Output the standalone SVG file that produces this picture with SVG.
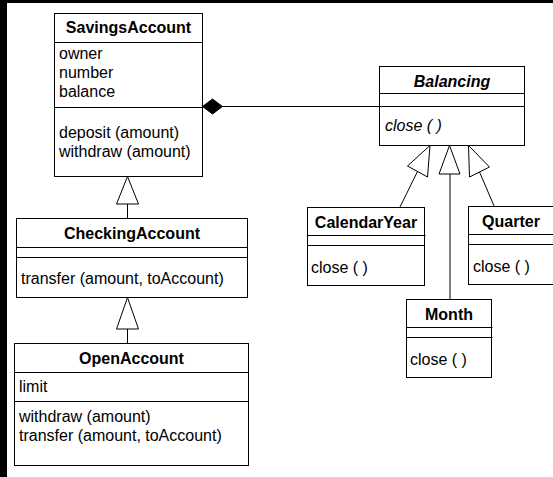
<svg xmlns="http://www.w3.org/2000/svg" width="553" height="477" viewBox="0 0 553 477">
  <style>
    .box { fill: #fff; stroke: #000; stroke-width: 1; }
    .sep { stroke: #000; stroke-width: 1; fill: none; }
    .edge { stroke: #000; stroke-width: 1; fill: none; }
    .gen { fill: #fff; stroke: #000; stroke-width: 1; }
    .comp { fill: #000; stroke: #000; stroke-width: 1; }
    text { font-family: "Liberation Sans", Arial, Helvetica, sans-serif; font-size: 16px; fill: #000; }
    .title { font-weight: bold; text-anchor: middle; }
    .abstract { font-style: italic; }
  </style>

  <!-- canvas -->
  <rect x="0" y="0" width="553" height="477" fill="#000"/>
  <rect x="7" y="3" width="546" height="474" fill="#fff"/>

  <!-- connectors -->
  <g id="connectors">
    <!-- composition: SavingsAccount owns Balancing -->
    <line class="edge" x1="222" y1="106.5" x2="379.5" y2="106.5"/>
    <polygon class="comp" points="202.5,106.5 212.5,99 222.5,106.5 212.5,114"/>

    <!-- CheckingAccount extends SavingsAccount -->
    <line class="edge" x1="127.5" y1="204" x2="127.5" y2="218"/>
    <polygon class="gen" points="127.5,176.5 116.5,204 138.5,204"/>

    <!-- OpenAccount extends CheckingAccount -->
    <line class="edge" x1="127.5" y1="329" x2="127.5" y2="343"/>
    <polygon class="gen" points="127.5,297.5 116.5,329 138.5,329"/>

    <!-- CalendarYear extends Balancing -->
    <line class="edge" x1="417.5" y1="171.5" x2="400" y2="207"/>
    <polygon class="gen" points="430,145.5 407.5,166 427.5,177"/>

    <!-- Month extends Balancing -->
    <line class="edge" x1="450" y1="174" x2="450" y2="299"/>
    <polygon class="gen" points="449.5,145.5 439,174 460,174"/>

    <!-- Quarter extends Balancing -->
    <line class="edge" x1="479.5" y1="172" x2="494.5" y2="207"/>
    <polygon class="gen" points="468.5,145.5 469.5,177 489.5,167"/>
  </g>

  <!-- SavingsAccount -->
  <g id="SavingsAccount">
    <rect class="box" x="54.5" y="13.5" width="148" height="163"/>
    <line class="sep" x1="54.5" y1="42.5" x2="202.5" y2="42.5"/>
    <line class="sep" x1="54.5" y1="107.5" x2="202.5" y2="107.5"/>
    <text class="title" x="128.5" y="33">SavingsAccount</text>
    <text x="59" y="59">owner</text>
    <text x="59" y="78">number</text>
    <text x="59" y="97">balance</text>
    <text x="59" y="138">deposit (amount)</text>
    <text x="59" y="157">withdraw (amount)</text>
  </g>

  <!-- CheckingAccount -->
  <g id="CheckingAccount">
    <rect class="box" x="16.5" y="218.5" width="231" height="79"/>
    <line class="sep" x1="16.5" y1="247.5" x2="247.5" y2="247.5"/>
    <line class="sep" x1="16.5" y1="257.5" x2="247.5" y2="257.5"/>
    <text class="title" x="132" y="239">CheckingAccount</text>
    <text x="21" y="284">transfer (amount, toAccount)</text>
  </g>

  <!-- OpenAccount -->
  <g id="OpenAccount">
    <rect class="box" x="14.5" y="343.5" width="234" height="122"/>
    <line class="sep" x1="14.5" y1="372.5" x2="248.5" y2="372.5"/>
    <line class="sep" x1="14.5" y1="401.5" x2="248.5" y2="401.5"/>
    <text class="title" x="131.5" y="364">OpenAccount</text>
    <text x="19" y="392">limit</text>
    <text x="19" y="422">withdraw (amount)</text>
    <text x="19" y="441">transfer (amount, toAccount)</text>
  </g>

  <!-- Balancing (abstract) -->
  <g id="Balancing">
    <rect class="box" x="379.5" y="66.5" width="145" height="79"/>
    <line class="sep" x1="379.5" y1="93.5" x2="524.5" y2="93.5"/>
    <line class="sep" x1="379.5" y1="106.5" x2="524.5" y2="106.5"/>
    <text class="title abstract" x="452" y="87">Balancing</text>
    <text class="abstract" x="385" y="131">close ( )</text>
  </g>

  <!-- CalendarYear -->
  <g id="CalendarYear">
    <rect class="box" x="307.5" y="207.5" width="117" height="78"/>
    <line class="sep" x1="307.5" y1="235.5" x2="425.5" y2="235.5"/>
    <line class="sep" x1="307.5" y1="245.5" x2="424.5" y2="245.5"/>
    <text class="title" x="366" y="228">CalendarYear</text>
    <text x="311" y="273">close ( )</text>
  </g>

  <!-- Quarter -->
  <g id="Quarter">
    <rect class="box" x="468.5" y="206.5" width="88" height="78"/>
    <line class="sep" x1="468.5" y1="234.5" x2="556" y2="234.5"/>
    <line class="sep" x1="468.5" y1="244.5" x2="556" y2="244.5"/>
    <text class="title" x="511" y="227">Quarter</text>
    <text x="473" y="272">close ( )</text>
  </g>

  <!-- Month -->
  <g id="Month">
    <rect class="box" x="406.5" y="299.5" width="85" height="78"/>
    <line class="sep" x1="406.5" y1="327.5" x2="492.5" y2="327.5"/>
    <line class="sep" x1="406.5" y1="337.5" x2="492.5" y2="337.5"/>
    <text class="title" x="449" y="320">Month</text>
    <text x="410" y="365">close ( )</text>
  </g>
</svg>
